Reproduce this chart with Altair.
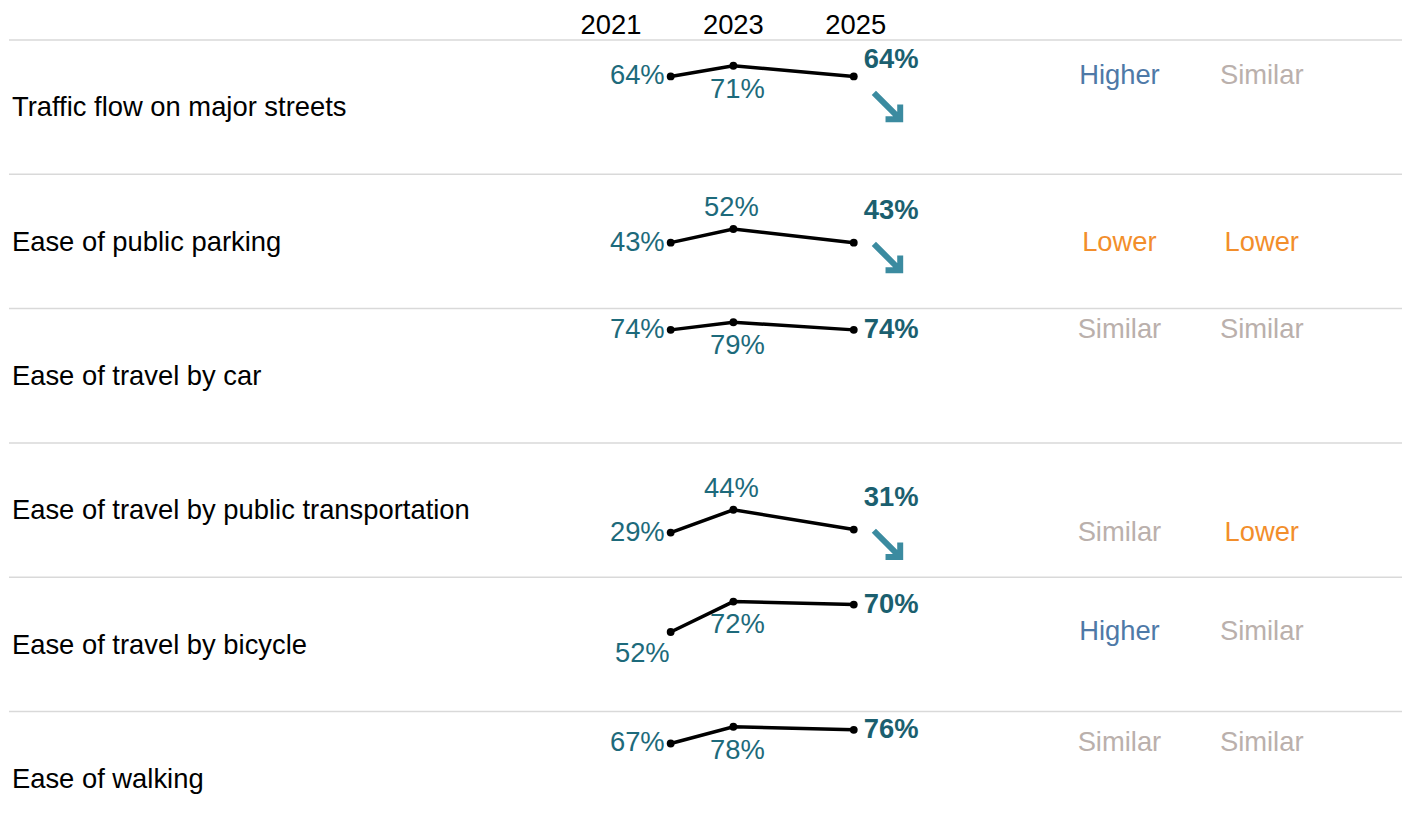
import altair as alt
import pandas as pd

# ---------------- data ----------------
categories = [
    "Traffic flow on major streets",
    "Ease of public parking",
    "Ease of travel by car",
    "Ease of travel by public transportation",
    "Ease of travel by bicycle",
    "Ease of walking",
]
years = [2021, 2023, 2025]
v2021 = [64, 43, 74, 29, 52, 67]
v2023 = [71, 52, 79, 44, 72, 78]
v2025 = [64, 43, 74, 31, 70, 76]
trend = ["down", "down", "none", "down", "none", "none"]
compare_a = ["Higher", "Lower", "Similar", "Similar", "Higher", "Similar"]
compare_b = ["Similar", "Lower", "Similar", "Lower", "Similar", "Similar"]

rows = []
for i, cat in enumerate(categories):
    vals = [v2021[i], v2023[i], v2025[i]]
    for y, v in zip(years, vals):
        if y == 2021:
            pos = "below" if (v2023[i] - v2021[i]) > 15 else "side"
        elif y == 2023:
            pos = "above" if v < 60 else "below"
        else:
            pos = "side"
        rows.append({
            "category": cat, "year": y, "value": v, "label": f"{v}%",
            "pos": pos, "trend": trend[i],
            "cmp_a": compare_a[i], "cmp_b": compare_b[i],
        })
df = pd.DataFrame(rows)

# ---------------- style ----------------
FONT = "Liberation Sans"
FS = 27.5
TEAL = "#1d6a7b"
TEAL_DARK = "#1b5f6f"
ARROW = "#3b8ba0"
W = 1400
H = 134.4

xs = alt.X("year:Q", scale=alt.Scale(domain=years, range=[665, 728, 849], nice=False, zero=False), axis=None)
ys = alt.Y("value:Q", scale=alt.Scale(domain=[0, 88], nice=False, zero=False), axis=None)
cmp_color = alt.Scale(domain=["Higher", "Lower", "Similar"], range=["#4e79a7", "#f28e2b", "#bab0ac"])

base = alt.Chart()

sep = base.transform_filter("datum.year == 2021").mark_rule(color="#d9d9d9", strokeWidth=1.5).encode(
    x=alt.value(0), x2=alt.value(W), y=alt.value(0)
)
cat_label = base.transform_filter("datum.year == 2021").mark_text(
    align="left", baseline="middle", font=FONT, fontSize=FS, color="black"
).encode(x=alt.value(3), y=alt.value(H / 2 + 1.5), text="category:N")

line = base.mark_line(color="black", strokeWidth=3.5).encode(x=xs, y=ys)
pts = base.mark_circle(color="black", size=62, opacity=1).encode(x=xs, y=ys)

lab21_side = base.transform_filter("datum.year == 2021 && datum.pos == 'side'").mark_text(
    align="right", baseline="middle", dx=-6, font=FONT, fontSize=FS, color=TEAL
).encode(x=xs, y=ys, text="label:N")
lab21_below = base.transform_filter("datum.year == 2021 && datum.pos == 'below'").mark_text(
    align="right", baseline="middle", dx=-1, dy=22, font=FONT, fontSize=FS, color=TEAL
).encode(x=xs, y=ys, text="label:N")
lab23_above = base.transform_filter("datum.year == 2023 && datum.pos == 'above'").mark_text(
    align="center", baseline="middle", dx=-2, dy=-21, font=FONT, fontSize=FS, color=TEAL
).encode(x=xs, y=ys, text="label:N")
lab23_below = base.transform_filter("datum.year == 2023 && datum.pos == 'below'").mark_text(
    align="center", baseline="middle", dx=4, dy=24, font=FONT, fontSize=FS, color=TEAL
).encode(x=xs, y=ys, text="label:N")
lab25_side = base.transform_filter("datum.year == 2025 && datum.trend != 'down'").mark_text(
    align="left", baseline="middle", dx=10, font=FONT, fontSize=FS, fontWeight="bold", color=TEAL_DARK
).encode(x=xs, y=ys, text="label:N")

down = base.transform_filter("datum.year == 2025 && datum.trend == 'down'").transform_calculate(
    anchor="min(datum.value, 54)"
)
ya = alt.Y("anchor:Q", scale=alt.Scale(domain=[0, 88], nice=False, zero=False), axis=None)
lab25_down = down.mark_text(
    align="left", baseline="middle", dx=10, dy=-32, font=FONT, fontSize=FS, fontWeight="bold", color=TEAL_DARK
).encode(x=xs, y=ya, text="label:N")
arrow_path = "M -1 -1 L 0.85 0.85 M -0.15 0.92 L 0.92 0.92 L 0.92 -0.15"
arrow = down.mark_point(
    shape=arrow_path, filled=False, strokeWidth=6, color=ARROW, size=760, opacity=1,
    xOffset=34, yOffset=15, strokeJoin="miter", strokeCap="butt"
).encode(x=xs, y=ya)

cmp1 = base.transform_filter("datum.year == 2021").mark_text(
    align="center", baseline="middle", font=FONT, fontSize=FS
).encode(x=alt.value(1116), y=ys, text="cmp_a:N",
         color=alt.Color("cmp_a:N", scale=cmp_color, legend=None))
cmp2 = base.transform_filter("datum.year == 2021").mark_text(
    align="center", baseline="middle", font=FONT, fontSize=FS
).encode(x=alt.value(1259), y=ys, text="cmp_b:N",
         color=alt.Color("cmp_b:N", scale=cmp_color, legend=None))

panel = alt.layer(
    sep, cat_label, line, pts, lab21_side, lab21_below, lab23_above, lab23_below,
    lab25_side, lab25_down, arrow, cmp1, cmp2, data=df
).properties(width=W, height=H)

rows_chart = panel.facet(
    row=alt.Row("category:N", sort=categories, header=alt.Header(labels=False, title=None)),
    spacing=0,
    bounds="flush",
)

header_df = pd.DataFrame({"year": years, "text": [str(y) for y in years]})
header = alt.Chart(header_df).mark_text(
    align="center", baseline="middle", font=FONT, fontSize=FS, color="black"
).encode(
    x=alt.X("year:Q", scale=alt.Scale(domain=[2021, 2025], range=[605, 851], nice=False, zero=False), axis=None),
    y=alt.value(16),
    text="text:N",
).properties(width=W, height=30)

chart = alt.vconcat(header, rows_chart, spacing=0, bounds="flush").resolve_scale(
    x="independent", y="independent"
).properties(padding=0).configure_view(stroke=None)

chart.save("out.html", embed_options={"renderer": "svg", "actions": False})
